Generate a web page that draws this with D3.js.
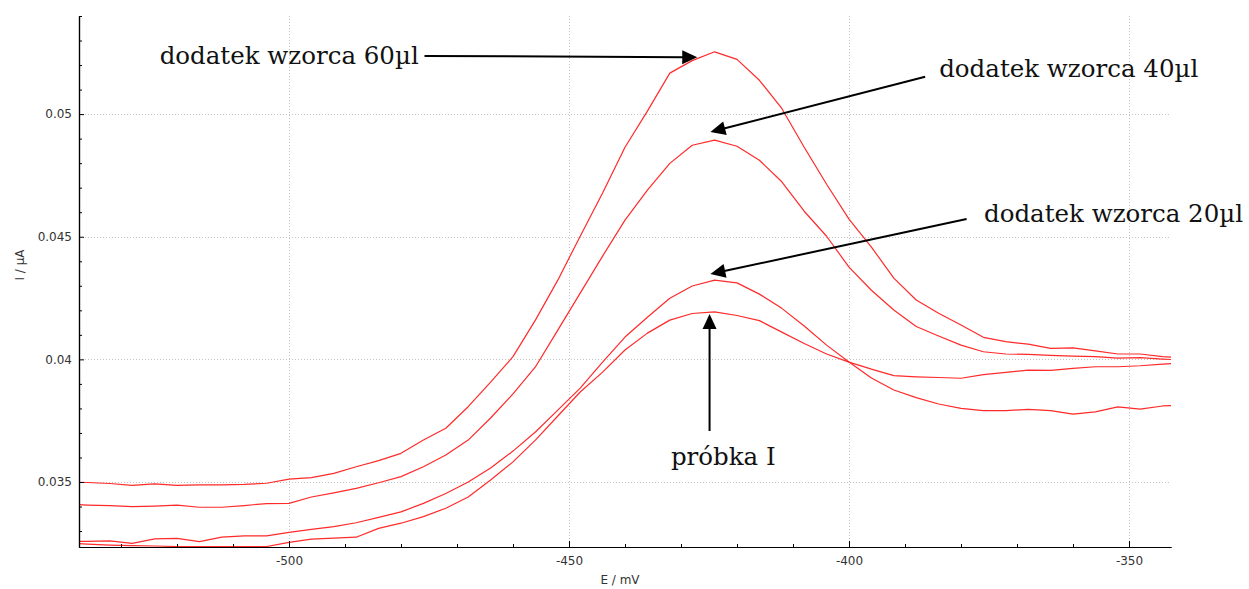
<!DOCTYPE html>
<html><head><meta charset="utf-8">
<script src="https://cdn.jsdelivr.net/npm/d3@7"></script>
<style>body{margin:0;background:#fff} svg{display:block}</style>
</head><body>
<svg id="chart" width="1249" height="589"></svg>
<script>
// Potential (mV)
const potentials = [-540,-536,-532,-528,-524,-520,-516,-512,-508,-504,-500,-496,-492,-488,-484,-480,-476,-472,-468,-464,-460,-456,-452,-448,-444,-440,-436,-432,-428,-424,-420,-416,-412,-408,-404,-400,-396,-392,-388,-384,-380,-376,-372,-368,-364,-360,-356,-352,-348,-344,-340];
// Current (µA)
const sample = [0.03251,0.03247,0.03243,0.03241,0.03239,0.03237,0.03237,0.03237,0.03237,0.03237,0.03254,0.03267,0.03271,0.03275,0.03311,0.03332,0.03359,0.03393,0.03439,0.03508,0.03582,0.03671,0.03769,0.03867,0.03948,0.04038,0.04107,0.04160,0.04187,0.04194,0.04179,0.04158,0.04111,0.04065,0.04022,0.03989,0.03960,0.03934,0.03929,0.03926,0.03923,0.03938,0.03947,0.03956,0.03955,0.03963,0.03970,0.03970,0.03974,0.03981,0.03985];
const add20 = [0.03258,0.03258,0.03260,0.03250,0.03268,0.03270,0.03257,0.03275,0.03280,0.03280,0.03295,0.03307,0.03318,0.03334,0.03356,0.03378,0.03413,0.03453,0.03500,0.03557,0.03626,0.03704,0.03793,0.03883,0.03989,0.04091,0.04172,0.04249,0.04299,0.04323,0.04312,0.04266,0.04208,0.04136,0.04058,0.03989,0.03924,0.03875,0.03844,0.03818,0.03800,0.03791,0.03791,0.03796,0.03791,0.03777,0.03786,0.03806,0.03797,0.03810,0.03814];
const add40 = [0.03410,0.03406,0.03404,0.03400,0.03402,0.03406,0.03397,0.03397,0.03404,0.03412,0.03413,0.03439,0.03456,0.03474,0.03497,0.03522,0.03562,0.03610,0.03671,0.03761,0.03859,0.03969,0.04119,0.04270,0.04421,0.04568,0.04690,0.04799,0.04873,0.04894,0.04869,0.04812,0.04724,0.04604,0.04502,0.04376,0.04282,0.04201,0.04134,0.04095,0.04058,0.04031,0.04022,0.04020,0.04016,0.04013,0.04011,0.04005,0.04007,0.04001,0.03997];
const add60 = [0.03500,0.03498,0.03494,0.03486,0.03492,0.03486,0.03488,0.03488,0.03490,0.03495,0.03512,0.03518,0.03535,0.03562,0.03587,0.03617,0.03671,0.03719,0.03807,0.03907,0.04011,0.04160,0.04323,0.04502,0.04678,0.04865,0.05012,0.05167,0.05218,0.05254,0.05223,0.05138,0.05023,0.04865,0.04714,0.04572,0.04458,0.04331,0.04242,0.04188,0.04140,0.04090,0.04072,0.04062,0.04045,0.04047,0.04035,0.04022,0.04022,0.04011,0.04005];
const seriesList = [sample, add20, add40, add60];

const xTicks = [-500, -450, -400, -350];
const yTicks = [0.035, 0.04, 0.045, 0.05];
const xTickLabels = ["-500", "-450", "-400", "-350"];
const yTickLabels = ["0.035", "0.04", "0.045", "0.05"];
const xDomain = [-537.5, -342.5];
const yDomain = [0.03235, 0.054];
const xTitle = "E / mV";
const yTitle = "I / µA";

// Annotations: label anchor, arrow start and arrow tip (data units)
const annTexts = ["dodatek wzorca 60µl", "dodatek wzorca 40µl", "dodatek wzorca 20µl", "próbka I"];
const annTextE = [-523.1, -383.9, -375.9, -431.8];
const annTextI = [0.05203, 0.05152, 0.04561, 0.03569];
const annFromE = [-475.8, -386.4, -379.0, -424.9];
const annFromI = [0.05237, 0.05152, 0.04572, 0.03708];
const annTipE  = [-427.1, -424.75, -424.75, -424.9];
const annTipI  = [0.05232, 0.04927, 0.04348, 0.04185];

const svg = d3.select("#chart");
const L = 79, R = 1171, T = 16, B = 547;
const x = d3.scaleLinear().domain(xDomain).range([L, R]);
const y = d3.scaleLinear().domain(yDomain).range([B, T]);

svg.append("rect").attr("width", 1249).attr("height", 589).attr("fill", "#fff");

// grid
const grid = svg.append("g").attr("stroke", "#c4c4c4").attr("stroke-width", 1).attr("stroke-dasharray", "1,2");
grid.selectAll(".gx").data(xTicks).join("line")
  .attr("x1", d => Math.round(x(d)) + 0.5).attr("x2", d => Math.round(x(d)) + 0.5)
  .attr("y1", T).attr("y2", B);
grid.selectAll(".gy").data(yTicks).join("line")
  .attr("y1", d => Math.round(y(d)) + 0.5).attr("y2", d => Math.round(y(d)) + 0.5)
  .attr("x1", L).attr("x2", R);

// curves
svg.append("clipPath").attr("id", "clip").append("rect")
  .attr("x", L).attr("y", T).attr("width", R - L).attr("height", B - T);
const line = d3.line().x((d, i) => x(potentials[i])).y(d => y(d));
svg.append("g").attr("clip-path", "url(#clip)")
  .selectAll("path").data(seriesList).join("path")
  .attr("d", line).attr("fill", "none").attr("stroke", "#ff2a2a").attr("stroke-width", 1.2)
  .attr("stroke-linejoin", "round");

// axes
const xMinor = x.ticks(20).filter(v => !xTicks.includes(v));
const yMinor = y.ticks(25).filter(v => !yTicks.some(t => Math.abs(t - v) < 1e-9));

const gx = svg.append("g").attr("transform", `translate(0,${B})`);
gx.call(d3.axisBottom(x).tickValues(xMinor).tickSizeInner(-3).tickSizeOuter(0).tickFormat(""));
gx.append("g").call(d3.axisBottom(x).tickValues(xTicks).tickSizeInner(-6).tickSizeOuter(0).tickPadding(9)
  .tickFormat((d, i) => xTickLabels[i]));
const gy = svg.append("g").attr("transform", `translate(${L},0)`);
gy.call(d3.axisLeft(y).tickValues(yMinor).tickSizeInner(-3).tickSizeOuter(0).tickFormat(""));
gy.append("g").call(d3.axisLeft(y).tickValues(yTicks).tickSizeInner(-5).tickSizeOuter(0).tickPadding(7)
  .tickFormat((d, i) => yTickLabels[i]));
svg.selectAll(".domain").attr("stroke", "#000").attr("stroke-width", 1.2);
svg.selectAll(".tick line").attr("stroke", "#000");
svg.selectAll(".tick text").attr("font-family", "DejaVu Sans, sans-serif").attr("font-size", 12).attr("fill", "#333");

svg.append("text").attr("x", 620).attr("y", 584).attr("text-anchor", "middle")
  .attr("font-family", "DejaVu Sans, sans-serif").attr("font-size", 12).attr("fill", "#333").text(xTitle);
svg.append("text").attr("transform", `translate(24,265) rotate(-90)`).attr("text-anchor", "middle")
  .attr("font-family", "DejaVu Sans, sans-serif").attr("font-size", 12).attr("fill", "#333").text(yTitle);

// annotations
const ann = svg.append("g");
annTexts.forEach((t, i) => {
  const x0 = x(annFromE[i]), y0 = y(annFromI[i]);
  const x1 = x(annTipE[i]), y1 = y(annTipI[i]);
  const dx = x1 - x0, dy = y1 - y0, len = Math.hypot(dx, dy);
  const ux = dx / len, uy = dy / len, nx = -uy, ny = ux;
  const hl = 15, hw = 7;
  const bx = x1 - ux * hl, by = y1 - uy * hl;
  ann.append("line").attr("x1", x0).attr("y1", y0).attr("x2", bx + ux * 2).attr("y2", by + uy * 2)
    .attr("stroke", "#000").attr("stroke-width", 2);
  ann.append("path").attr("d", `M${x1},${y1}L${bx + nx * hw},${by + ny * hw}L${bx - nx * hw},${by - ny * hw}Z`)
    .attr("fill", "#000");
  ann.append("text").attr("x", x(annTextE[i])).attr("y", y(annTextI[i]))
    .attr("font-family", "DejaVu Serif, serif").attr("font-size", 24.5).attr("fill", "#111").text(t);
});
</script>
</body></html>
